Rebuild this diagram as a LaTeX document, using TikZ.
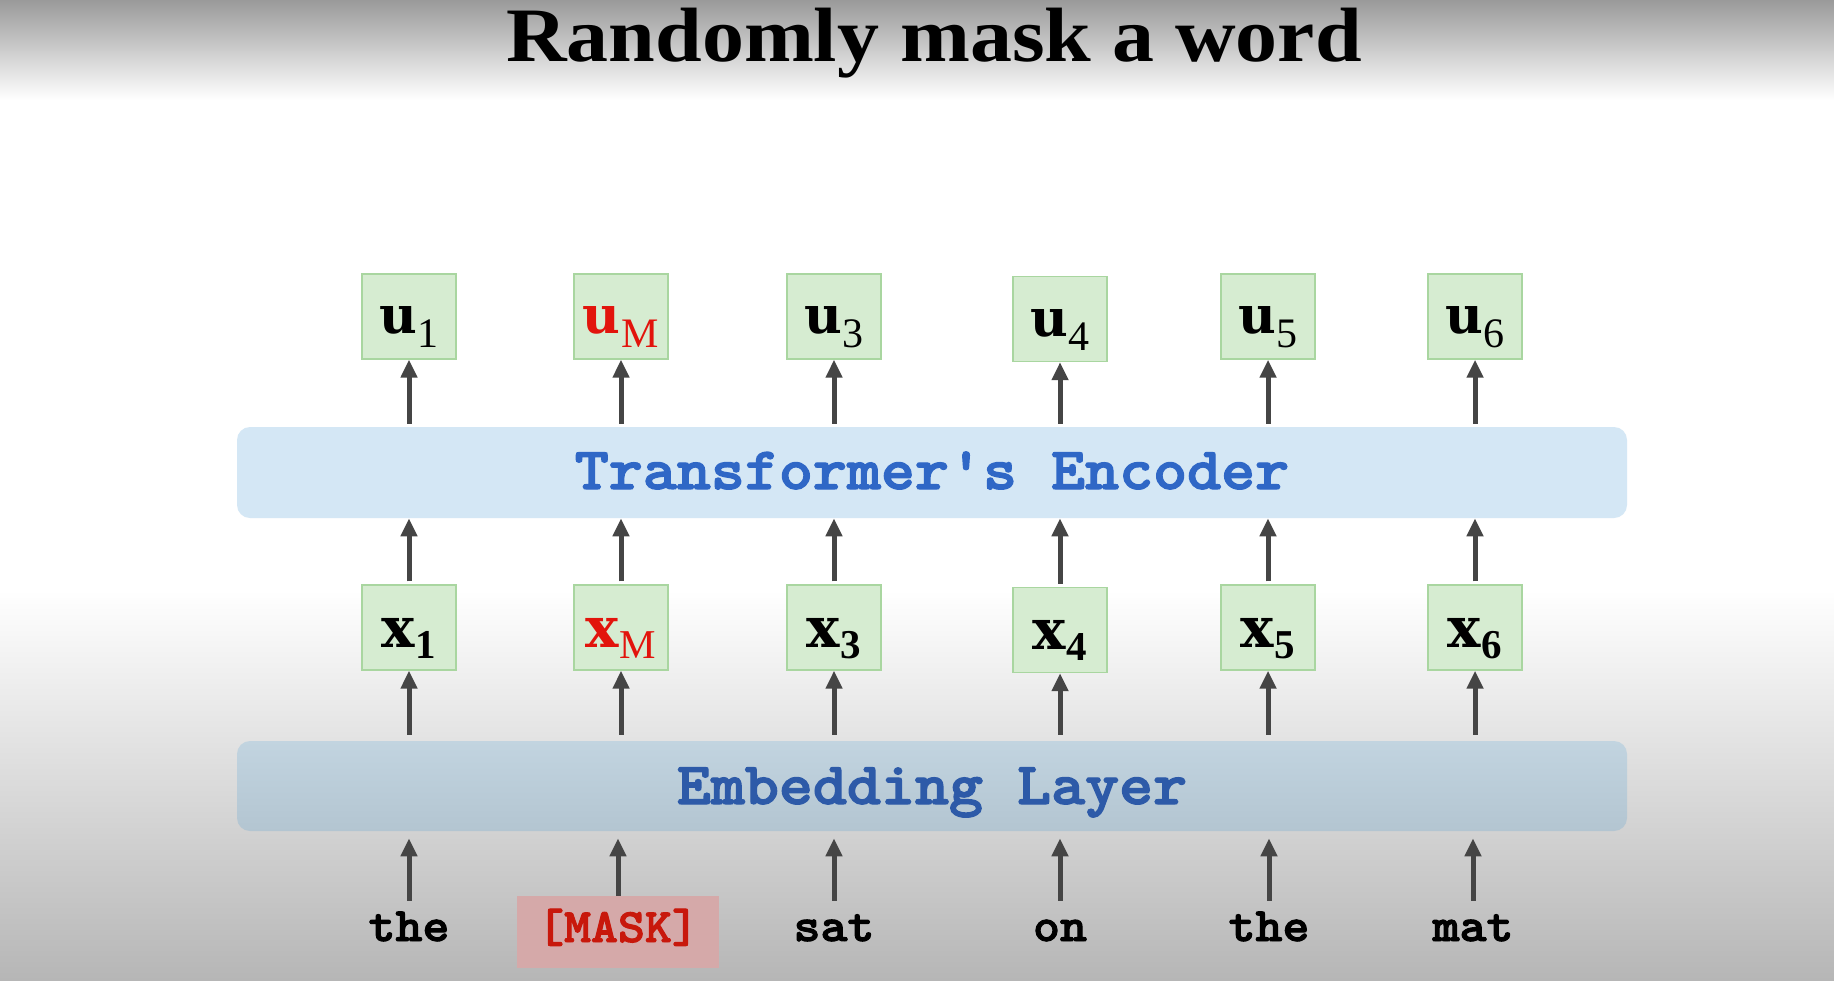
\documentclass[tikz,border=0pt]{standalone}
\usepackage{fontspec}
\setmainfont{Liberation Serif}
\newfontfamily\labfont{DejaVu Serif}
\newfontfamily\courb{lmmonolt10-bold.otf}[FakeBold=2]
\usetikzlibrary{arrows.meta,calc}
\definecolor{arrc}{HTML}{454545}
\definecolor{bgtop}{HTML}{9A9A9A}
\definecolor{bgbot}{HTML}{B6B6B6}
\definecolor{gfill}{HTML}{D6ECD1}
\definecolor{gline}{HTML}{A9D6A0}
\definecolor{encfill}{HTML}{D4E7F5}
\definecolor{enctext}{HTML}{2F67C6}
\definecolor{embtop}{HTML}{C2D4E0}
\definecolor{embbot}{HTML}{B3C5D1}
\definecolor{embtext}{HTML}{2D5AA8}
\definecolor{redlab}{HTML}{E2140C}
\definecolor{maskfill}{HTML}{D5A9A9}
\definecolor{masktext}{HTML}{C8180C}
\newcommand\ulab[1]{{\labfont\fontsize{26}{26}\selectfont\bfseries u}\kern0.5pt\raisebox{-7pt}{\fontsize{21}{21}\selectfont #1}}
\newcommand\xlab[1]{{\labfont\fontsize{28}{28}\selectfont\bfseries x}\kern0.5pt\raisebox{-5.5pt}{\fontsize{20.5}{20.5}\selectfont #1}}
\newcommand\laytxt[1]{\scalebox{1.08}[1]{\courb\fontsize{30}{30}\selectfont #1}}
\newcommand\wordtxt[1]{\scalebox{1.07}[1]{\courb\fontsize{24}{24}\selectfont #1}}
\begin{document}
\begin{tikzpicture}[x=0.5pt,y=-0.5pt,
  arr/.style={draw=arrc,line width=2.5pt,-{Triangle[width=8pt,length=9pt]}},
  gbox/.style={draw=gline,fill=gfill,line width=0.7pt,minimum width=47pt,minimum height=42.5pt,inner sep=0pt},
  urow/.style={gbox,text height=20pt,text depth=3pt},
  xrow/.style={gbox,text height=22pt,text depth=2.5pt},
  layer/.style={rounded corners=6.5pt,minimum width=695pt,inner sep=0pt},
  word/.style={anchor=base,inner sep=0pt,text height=14pt,text depth=4pt},
  maskbox/.style={fill=maskfill,text=masktext,minimum width=101pt,minimum height=36pt,
     inner sep=0pt,text height=14pt,text depth=4pt}]
\useasboundingbox (0,0) rectangle (1834,980);
% background
\fill[white] (0,0) rectangle (1834,980);
\shade[top color=bgtop,bottom color=white] (0,0) rectangle (1834,100);
\shade[top color=white,bottom color=bgbot] (0,590) rectangle (1834,980);
% title
\node[anchor=base,inner sep=0pt] (title) at (934,61)
  {\scalebox{1.09}[1]{\fontsize{38.5}{38.5}\selectfont\bfseries Randomly mask a word}};
% layers
\node[layer,fill=encfill,text=enctext,minimum height=45.5pt,text height=20pt,text depth=3.5pt] (enc) at (932,472.5) {\laytxt{Transformer's Encoder}};
\node[layer,top color=embtop,bottom color=embbot,text=embtext,minimum height=45pt,text height=22pt,text depth=4pt] (emb) at (932,786) {\laytxt{Embedding Layer}};
% output boxes
\node[urow] (u1) at (409,316.5) {\ulab{1}};
\node[urow] (u2) at (621,316.5) {\color{redlab}\ulab{M}};
\node[urow] (u3) at (834,316.5) {\ulab{3}};
\node[urow] (u4) at (1060,319) {\ulab{4}};
\node[urow] (u5) at (1268,316.5) {\ulab{5}};
\node[urow] (u6) at (1475,316.5) {\ulab{6}};
% embedding boxes
\node[xrow] (x1) at (409,627.5) {\xlab{\bfseries 1}};
\node[xrow] (x2) at (621,627.5) {\color{redlab}\xlab{M}};
\node[xrow] (x3) at (834,627.5) {\xlab{\bfseries 3}};
\node[xrow] (x4) at (1060,630) {\xlab{\bfseries 4}};
\node[xrow] (x5) at (1268,627.5) {\xlab{\bfseries 5}};
\node[xrow] (x6) at (1475,627.5) {\xlab{\bfseries 6}};
% words
\node[word] (w1) at (409,941) {\wordtxt{the}};
\node[maskbox] (w2) at (618,932) {\wordtxt{[MASK]}};
\node[word] (w3) at (834,941) {\wordtxt{sat}};
\node[word] (w4) at (1060,941) {\wordtxt{on}};
\node[word] (w5) at (1269,941) {\wordtxt{the}};
\node[word] (w6) at (1473,941) {\wordtxt{mat}};
% arrows
\foreach \i in {1,...,6}{
  \draw[arr] ($(enc.north -| u\i.south)+(0,-3)$) -- (u\i.south);
  \draw[arr] ($(x\i.north)+(0,-3)$) -- (x\i.north |- enc.south);
  \draw[arr] ($(emb.north -| x\i.south)+(0,-6)$) -- (x\i.south);
}
\foreach \i in {1,3,4,5,6}{
  \draw[arr] ($(w\i.north)+(0,-12)$) -- ($(w\i.north |- emb.south)+(0,7)$);
}
\draw[arr] (w2.north) -- ($(w2.north |- emb.south)+(0,7)$);
\end{tikzpicture}
\end{document}
